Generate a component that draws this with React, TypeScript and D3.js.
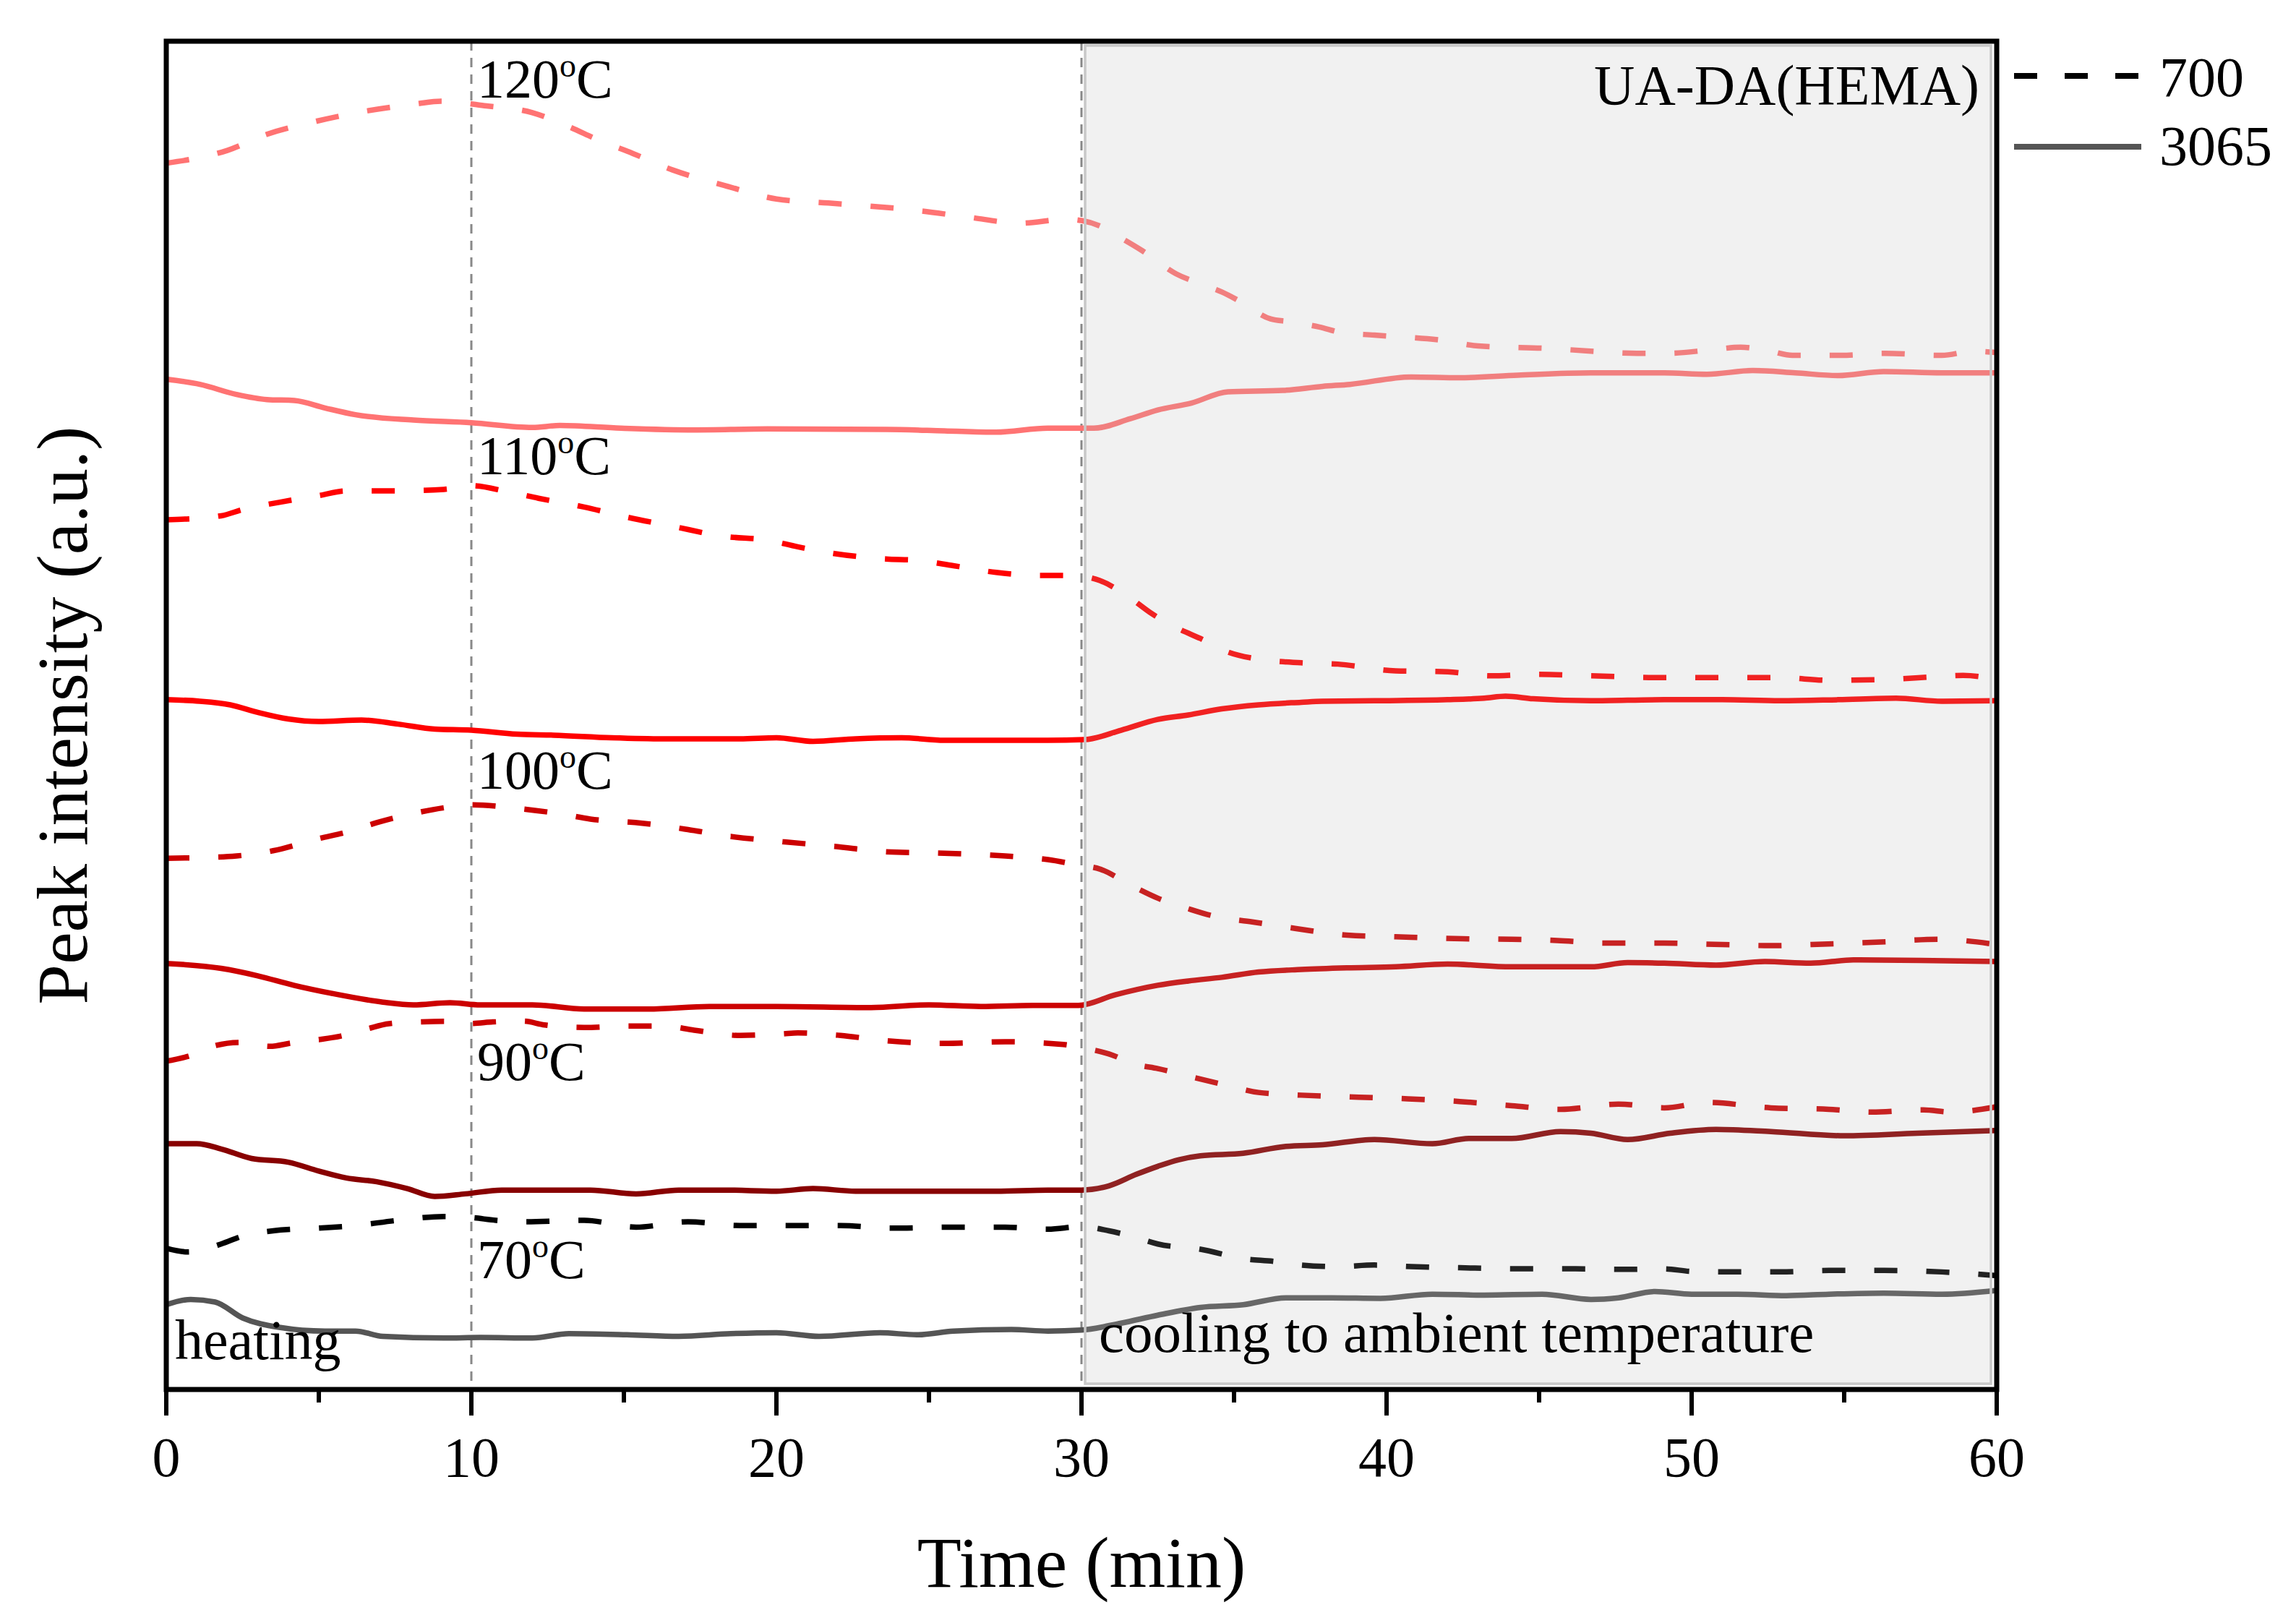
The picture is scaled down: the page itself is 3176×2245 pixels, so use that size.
import * as d3 from 'd3'

// [time (min), peak intensity (a.u.)]
type Pt = [number, number]

const dash120: Pt[] = [[0,90.95],[2,91.9],[3.3,93.1],[4.8,94.0],[6.5,94.8],[8.2,95.35],[9,95.55],[10.5,95.2],[12,94.7],[13,93.85],[14.4,92.45],[15.1,91.85],[16.6,90.45],[18.3,89.3],[20,88.3],[21.7,88.0],[24.6,87.45],[26.3,86.95],[28,86.5],[29.5,86.8],[30,86.7],[30.6,86.3],[31.3,85.4],[32,84.45],[33.1,82.75],[33.9,82.0],[34.6,81.4],[35.2,80.7],[36.2,79.4],[36.8,79.2],[37.8,78.8],[38.5,78.4],[39.6,78.2],[41.9,77.8],[43,77.4],[45.4,77.2],[46.8,77.0],[48.2,76.85],[49.2,76.85],[50.6,77.1],[51.6,77.3],[52.6,77.0],[53.3,76.7],[54.9,76.7],[56.3,76.85],[58.2,76.7],[59.2,77.0],[60,76.9]]
const solid120: Pt[] = [[0,74.93],[1.1,74.55],[2.3,73.8],[3.3,73.42],[4.2,73.35],[5.2,72.8],[6.2,72.3],[8.1,71.9],[10,71.7],[12,71.35],[12.9,71.5],[14.9,71.3],[17.3,71.17],[19.7,71.24],[23.6,71.2],[25.5,71.1],[27.2,71.0],[28.9,71.3],[30.4,71.3],[31.6,72.0],[32.5,72.65],[33.6,73.16],[34.8,74.0],[36.6,74.1],[37.9,74.4],[38.8,74.55],[40.8,75.1],[42.4,75.04],[44.3,75.23],[46.7,75.4],[49.1,75.4],[50.5,75.3],[52,75.57],[53.4,75.4],[54.8,75.2],[56.3,75.5],[58.2,75.4],[60,75.4]]
const dash110: Pt[] = [[0,64.5],[1.8,64.8],[2.5,65.26],[3.7,65.8],[5,66.3],[5.9,66.65],[7.4,66.65],[9.1,66.76],[10,67.03],[11.2,66.58],[12.2,66.1],[13.7,65.45],[15.1,64.7],[16.6,64.02],[18.3,63.27],[19.7,63.0],[20.7,62.5],[21.9,62.0],[23.6,61.6],[24.6,61.5],[25.8,61.1],[27.2,60.6],[28.7,60.37],[29.7,60.37],[30.6,60.0],[31.6,58.7],[32.3,57.55],[33.2,56.4],[33.9,55.7],[34.8,54.7],[35.8,54.17],[37.2,53.9],[38.4,53.8],[40.3,53.3],[42,53.23],[43.4,52.93],[44.8,53.04],[46.7,52.93],[49.1,52.8],[51,52.8],[52.9,52.8],[54.5,52.6],[56.3,52.66],[57.9,52.85],[58.9,52.96],[60,52.66]]
const solid110: Pt[] = [[0,51.16],[1.1,51.05],[2.1,50.78],[3,50.22],[4,49.73],[5,49.54],[6.4,49.65],[7.6,49.35],[8.8,48.98],[10,48.9],[11.5,48.6],[12.7,48.53],[14.6,48.34],[16.3,48.26],[18.8,48.26],[20,48.34],[21.2,48.07],[22.6,48.26],[24.1,48.34],[25.5,48.15],[27.2,48.15],[28.9,48.15],[30.1,48.2],[31.3,48.9],[32.5,49.7],[33.5,50.03],[34.6,50.48],[35.8,50.78],[37.2,50.97],[37.9,51.05],[39.6,51.08],[42,51.16],[43.2,51.27],[43.9,51.42],[44.8,51.23],[46.7,51.08],[49.1,51.16],[51,51.16],[52.9,51.08],[54.8,51.16],[56.7,51.27],[58.2,51.05],[60,51.08]]
const dash100: Pt[] = [[0,39.4],[1.1,39.45],[2.3,39.57],[3.5,39.96],[5,40.86],[5.9,41.33],[6.9,42.04],[8.3,42.82],[9.3,43.21],[10,43.37],[11.5,43.1],[12.9,42.7],[13.9,42.31],[15.6,42.0],[17.1,41.53],[18.5,41.02],[20.2,40.63],[21.9,40.28],[23.6,39.88],[25.5,39.77],[27.5,39.57],[28.9,39.3],[29.9,38.9],[30.6,38.6],[31.6,37.42],[32.5,36.44],[33.5,35.66],[34.4,35.07],[35.6,34.68],[37,34.2],[38.7,33.7],[40.3,33.58],[42.5,33.43],[44.1,33.39],[45.6,33.3],[47.2,33.11],[49.1,33.11],[51,33.0],[52.6,32.92],[54.3,33.03],[56.2,33.19],[58.1,33.39],[60,33.0]]
const solid100: Pt[] = [[0,31.6],[1.8,31.23],[3,30.68],[4.2,29.97],[5.4,29.39],[7.1,28.73],[8.1,28.53],[9.3,28.69],[10.3,28.53],[12,28.53],[13.7,28.22],[15.8,28.22],[17.8,28.41],[20,28.41],[23.1,28.33],[25,28.53],[26.7,28.41],[28.4,28.49],[29.9,28.49],[31.1,29.27],[32.5,29.98],[33.5,30.3],[34.6,30.57],[35.8,30.96],[37.2,31.15],[38.7,31.27],[40.3,31.35],[42,31.55],[44.1,31.35],[46.7,31.35],[47.9,31.66],[49.1,31.62],[50.8,31.47],[52.4,31.74],[53.9,31.62],[55.3,31.86],[57.5,31.82],[60,31.74]]
const dash90: Pt[] = [[0,24.35],[0.75,24.73],[1.6,25.5],[2.4,25.74],[3.4,25.45],[4.1,25.7],[5,25.95],[5.7,26.2],[6.6,26.76],[7.3,27.13],[8.3,27.26],[9.1,27.3],[10,27.15],[10.7,27.26],[11.7,27.32],[12.4,27.04],[13.7,26.85],[15.1,26.96],[16.3,26.96],[17.3,26.65],[18.8,26.26],[20.2,26.38],[20.7,26.45],[22.1,26.26],[23.6,25.87],[25.5,25.67],[27.5,25.79],[29.4,25.59],[30,25.36],[30.9,24.89],[31.8,24.1],[32.5,23.8],[33.7,23.13],[34.8,22.54],[35.8,22.03],[37.2,21.83],[39.1,21.68],[40.7,21.56],[42.4,21.36],[44.1,21.05],[45.7,20.78],[47.6,21.17],[49.1,20.89],[50.5,21.29],[52.6,20.89],[54.5,20.78],[55.9,20.58],[57.6,20.74],[58.5,20.58],[60,20.97]]
const solid90: Pt[] = [[0,18.23],[1,18.23],[1.8,17.84],[2.8,17.13],[4,16.86],[5,16.2],[5.9,15.69],[6.9,15.41],[7.9,14.9],[8.8,14.32],[9.8,14.51],[11,14.79],[12.5,14.79],[13.9,14.79],[15.4,14.51],[16.8,14.79],[18.3,14.79],[20,14.71],[21.2,14.9],[22.6,14.71],[24.8,14.71],[27.2,14.71],[28.9,14.79],[30,14.79],[30.9,15.1],[31.8,15.96],[32.5,16.55],[33.2,17.05],[33.9,17.33],[35.3,17.52],[36.7,18.03],[37.9,18.15],[39.6,18.54],[41.5,18.23],[42.7,18.62],[44.1,18.62],[45.7,19.13],[46.7,19.01],[47.9,18.54],[49.3,19.01],[50.8,19.29],[52.6,19.13],[55,18.82],[57.4,19.01],[60,19.21]]
const dash70: Pt[] = [[0,10.48],[0.7,10.2],[1.8,10.79],[2.5,11.38],[3.5,11.77],[5,11.97],[6.2,12.16],[7.6,12.55],[9.1,12.83],[10,12.75],[10.8,12.55],[11.7,12.44],[13.7,12.55],[15.4,12.04],[17.1,12.44],[18.8,12.16],[20.7,12.16],[22.1,12.16],[23.8,11.97],[25.8,12.04],[27.5,12.04],[28.9,11.89],[30,12.08],[30.9,11.77],[31.8,11.26],[32.5,10.79],[33.9,10.4],[35.3,9.7],[36.3,9.5],[37.2,9.23],[38.4,9.11],[39.6,9.23],[40.8,9.11],[42.4,9.03],[44.3,8.95],[46.2,8.95],[47.9,8.91],[49.1,8.95],[50,8.76],[51.5,8.72],[52.9,8.72],[54.5,8.83],[56.3,8.83],[58.2,8.72],[60,8.44]]
const solid70: Pt[] = [[0,6.29],[0.8,6.68],[1.6,6.49],[2.5,5.31],[3.7,4.61],[5.2,4.33],[6.2,4.33],[7.1,3.94],[9.1,3.82],[10.3,3.86],[12,3.82],[13.2,4.14],[15.1,4.06],[16.8,3.94],[18.5,4.14],[20,4.21],[21.4,3.94],[23.4,4.21],[24.6,4.06],[25.8,4.33],[27.7,4.45],[28.9,4.33],[30,4.41],[31.3,4.92],[32.5,5.51],[33.9,6.09],[35.3,6.29],[36.7,6.8],[38.2,6.8],[39.8,6.76],[41.5,7.07],[43.2,7.0],[45.1,7.07],[46.7,6.68],[47.6,6.8],[48.8,7.27],[50,7.07],[51.5,7.07],[53.1,6.96],[54.5,7.07],[56.3,7.15],[58.2,7.07],[60,7.35]]

const series = [
  { temp: 120, peak: '700', color: '#FF7373', data: dash120 },
  { temp: 120, peak: '3065', color: '#FF7373', data: solid120 },
  { temp: 110, peak: '700', color: '#FF0000', data: dash110 },
  { temp: 110, peak: '3065', color: '#FF0000', data: solid110 },
  { temp: 100, peak: '700', color: '#CC0000', data: dash100 },
  { temp: 100, peak: '3065', color: '#CC0000', data: solid100 },
  { temp: 90, peak: '700', color: '#CC0000', data: dash90 },
  { temp: 90, peak: '3065', color: '#880000', data: solid90 },
  { temp: 70, peak: '700', color: '#000000', data: dash70 },
  { temp: 70, peak: '3065', color: '#555555', data: solid70 },
]

// temperature labels: [temp, time, intensity at baseline]
const tempLabels: [string, number, number][] = [
  ['120', 10, 95.8],
  ['110', 10, 67.9],
  ['100', 10, 44.55],
  ['90', 10, 22.95],
  ['70', 10, 8.26],
]

const majorTicks = [0, 10, 20, 30, 40, 50, 60]
const minorTicks = [5, 15, 25, 35, 45, 55]
const markerTimes = [10, 30]
const coolingStart = 30

const W = 3176
const H = 2245
const margin = { top: 57, right: 414, bottom: 323, left: 230 }
const FONT = '"Liberation Serif", "Times New Roman", serif'

export default function App() {
  const x = d3.scaleLinear().domain([0, 60]).range([margin.left, W - margin.right])
  const y = d3.scaleLinear().domain([0, 100]).range([H - margin.bottom, margin.top])
  const line = d3.line<Pt>().x(d => x(d[0])).y(d => y(d[1])).curve(d3.curveMonotoneX)

  const top = y(100)
  const bottom = y(0)
  const left = x(0)
  const right = x(60)

  return (
    <div>
      <style>{'body{margin:0}'}</style>
      <svg width={W} height={H} style={{ display: 'block', background: '#fff' }} fontFamily={FONT}>
        {/* dashed guide lines */}
        {markerTimes.map(t => (
          <line key={t} x1={x(t)} x2={x(t)} y1={top} y2={bottom}
            stroke="#888" strokeWidth={3} strokeDasharray="13,10" />
        ))}

        {/* curves */}
        {series.map((s, i) => (
          <path key={i} d={line(s.data) ?? ''} fill="none" stroke={s.color} strokeWidth={7.5}
            strokeDasharray={s.peak === '700' ? '32,40' : undefined} />
        ))}

        {/* cooling region overlay */}
        <rect x={x(coolingStart) + 5} y={top + 6} width={right - x(coolingStart) - 13} height={bottom - top - 14}
          fill="rgb(181,181,181)" fillOpacity={0.19} stroke="#c8c8c8" strokeWidth={3.5} />

        {/* temperature labels */}
        {tempLabels.map(([t, tx, v]) => (
          <text key={t} x={x(tx) + 8} y={y(v)} fontSize={76} fill="#000">
            {t}<tspan dy={-29} fontSize={46}>o</tspan><tspan dy={29}>C</tspan>
          </text>
        ))}

        <text x={242} y={y(2.25)} fontSize={78}>heating</text>
        <text x={x(coolingStart) + 24} y={y(2.8)} fontSize={79}>cooling to ambient temperature</text>
        <text x={right - 24} y={144} fontSize={78} textAnchor="end">UA-DA(HEMA)</text>

        {/* frame */}
        <rect x={left} y={top} width={right - left} height={bottom - top} fill="none" stroke="#000" strokeWidth={7} />

        {/* x ticks */}
        {majorTicks.map(t => (
          <g key={t}>
            <line x1={x(t)} x2={x(t)} y1={bottom} y2={bottom + 36} stroke="#000" strokeWidth={6} />
            <text x={x(t)} y={2042} fontSize={78} textAnchor="middle">{t}</text>
          </g>
        ))}
        {minorTicks.map(t => (
          <line key={t} x1={x(t)} x2={x(t)} y1={bottom} y2={bottom + 18} stroke="#000" strokeWidth={6} />
        ))}

        <text x={(left + right) / 2} y={2195} fontSize={100} textAnchor="middle">Time (min)</text>
        <text transform={`translate(120, ${(top + bottom) / 2}) rotate(-90)`} fontSize={100} textAnchor="middle">
          Peak intensity (a.u.)
        </text>

        {/* legend */}
        <line x1={2786} x2={2962} y1={105} y2={105} stroke="#000" strokeWidth={8} strokeDasharray="32,38" />
        <text x={2987} y={133} fontSize={78}>700</text>
        <line x1={2786} x2={2962} y1={203} y2={203} stroke="#555" strokeWidth={8} />
        <text x={2987} y={228} fontSize={78}>3065</text>
      </svg>
    </div>
  )
}
